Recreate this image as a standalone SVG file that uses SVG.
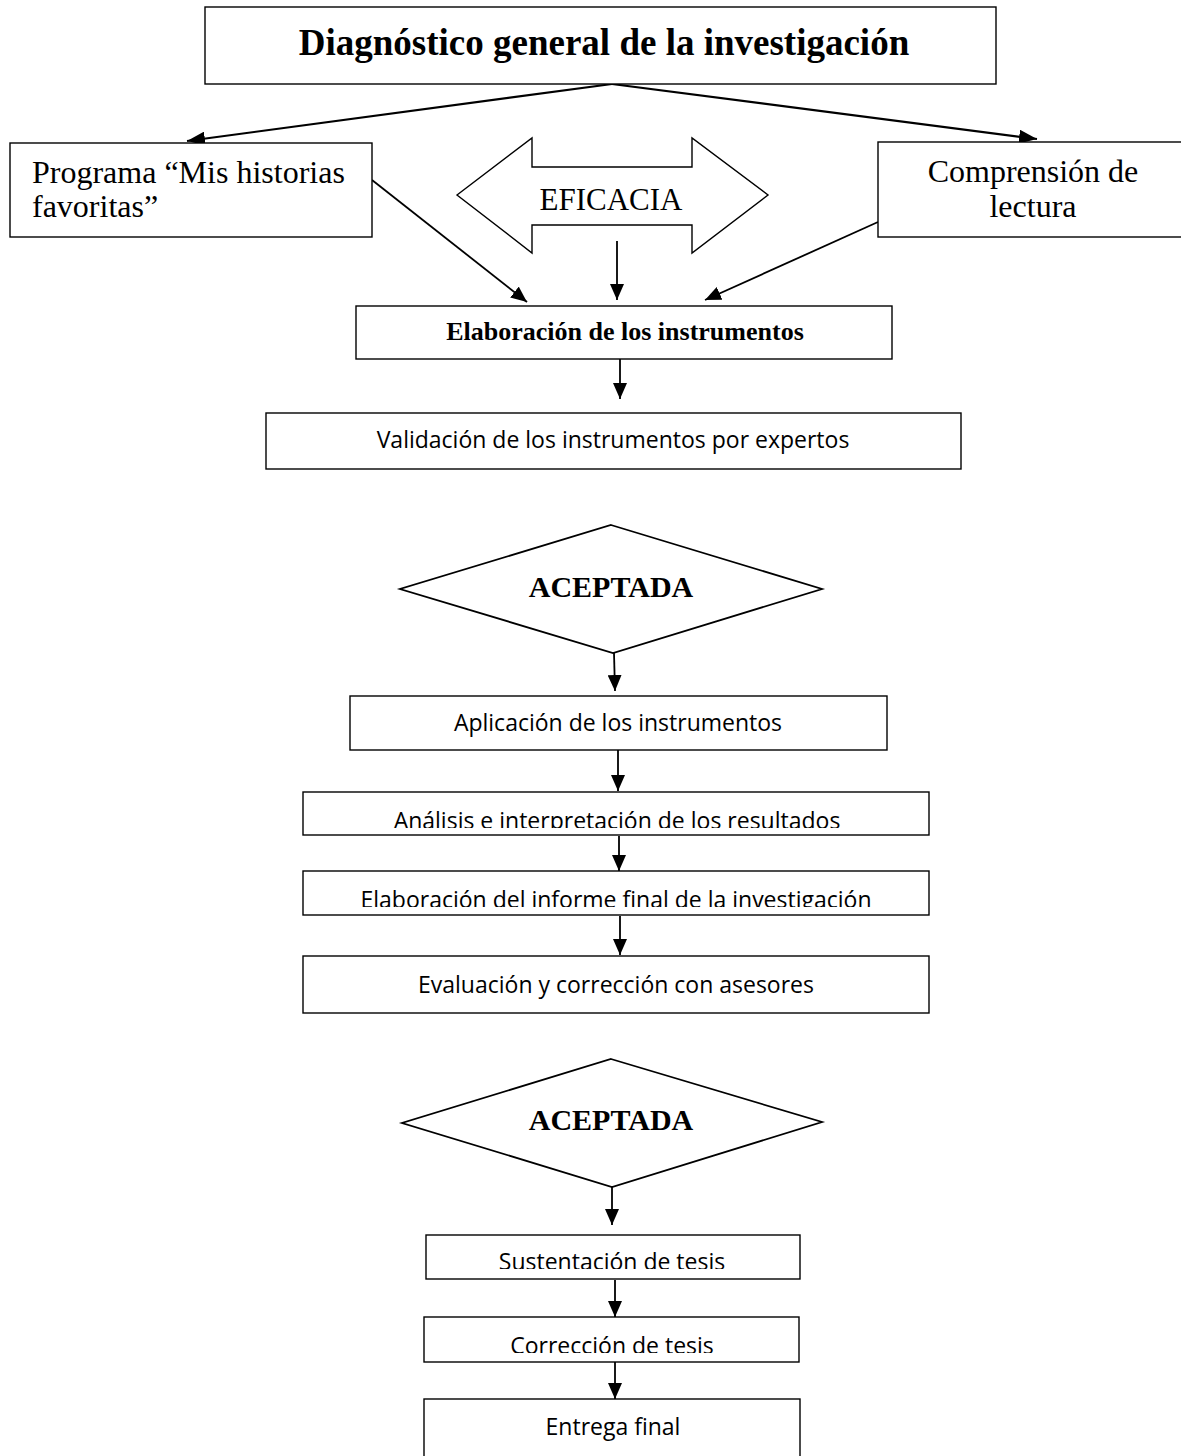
<svg xmlns="http://www.w3.org/2000/svg" width="1181" height="1456" viewBox="0 0 1181 1456">
<style>
.box{fill:#fff;stroke:#000;stroke-width:1.4}
.serif{font-family:"Liberation Serif","Times New Roman",serif;fill:#000}
.sans{font-family:"Open Sans","Liberation Sans",sans-serif;fill:#000;font-size:23px}
.con{stroke:#000;stroke-width:1.8;fill:none;marker-end:url(#ah)}
</style>
<defs>
<marker id="ah" viewBox="0 0 16 14" refX="16" refY="7" markerWidth="16" markerHeight="14" markerUnits="userSpaceOnUse" orient="auto">
<path d="M0,0 L16,7 L0,14 z" fill="#000"/>
</marker>
<marker id="ah2" viewBox="0 0 18 14" refX="18" refY="7" markerWidth="18" markerHeight="14" markerUnits="userSpaceOnUse" orient="auto">
<path d="M0,0 L18,7 L0,14 z" fill="#000"/>
</marker>
<clipPath id="c1"><rect x="303" y="792" width="626" height="36"/></clipPath>
<clipPath id="c2"><rect x="303" y="871" width="626" height="36"/></clipPath>
<clipPath id="c3"><rect x="426" y="1235" width="374" height="34"/></clipPath>
<clipPath id="c4"><rect x="424" y="1317" width="375" height="36"/></clipPath>
</defs>

<g id="connectors">
<line x1="612" y1="84" x2="187" y2="141" stroke="#000" stroke-width="2.2" marker-end="url(#ah2)"/>
<line x1="612" y1="84" x2="1037" y2="139" stroke="#000" stroke-width="2.2" marker-end="url(#ah2)"/>
<line class="con" x1="372" y1="180" x2="527" y2="302"/>
<line class="con" x1="617" y1="241" x2="617" y2="300"/>
<line class="con" x1="878" y1="222" x2="705" y2="300"/>
<line class="con" x1="620" y1="359" x2="620" y2="399"/>
<line class="con" x1="614" y1="653" x2="615" y2="691"/>
<line class="con" x1="618" y1="750" x2="618" y2="791"/>
<line class="con" x1="619" y1="836" x2="619" y2="871"/>
<line class="con" x1="620" y1="916" x2="620" y2="955"/>
<line class="con" x1="612" y1="1187" x2="612" y2="1225"/>
<line class="con" x1="615" y1="1280" x2="615" y2="1317"/>
<line class="con" x1="615" y1="1362" x2="615" y2="1399"/>
</g>

<g id="n-diagnostico">
<rect class="box" x="205" y="7" width="791" height="77" stroke-width="2"/>
<text class="serif" x="604" y="55" font-size="37" font-weight="bold" text-anchor="middle">Diagnóstico general de la investigación</text>
</g>

<g id="n-programa">
<rect class="box" x="10" y="143" width="362" height="94"/>
<text class="serif" x="32" y="183" font-size="32">Programa “Mis historias</text>
<text class="serif" x="32" y="217" font-size="32">favoritas”</text>
</g>

<g id="n-eficacia">
<polygon points="457,195 532,138 532,167 692,167 692,138 768,195 692,253 692,225 532,225 532,253" fill="#fff" stroke="#000" stroke-width="1.4"/>
<text class="serif" x="611" y="210" font-size="31" text-anchor="middle">EFICACIA</text>
</g>

<g id="n-comprension">
<rect class="box" x="878" y="142" width="310" height="95"/>
<text class="serif" x="1033" y="182" font-size="32" text-anchor="middle">Comprensión de</text>
<text class="serif" x="1033" y="217" font-size="32" text-anchor="middle">lectura</text>
</g>

<g id="n-elaboracion">
<rect class="box" x="356" y="306" width="536" height="53"/>
<text class="serif" x="625" y="340" font-size="26" font-weight="bold" text-anchor="middle">Elaboración de los instrumentos</text>
</g>

<g id="n-validacion">
<rect class="box" x="266" y="413" width="695" height="56"/>
<text class="sans" x="613" y="448" text-anchor="middle">Validación de los instrumentos por expertos</text>
</g>

<g id="n-aceptada1">
<polygon points="611,525 822,589 613,653 400,589" fill="#fff" stroke="#000" stroke-width="1.8"/>
<text class="serif" x="611" y="597" font-size="30" font-weight="bold" text-anchor="middle">ACEPTADA</text>
</g>

<g id="n-aplicacion">
<rect class="box" x="350" y="696" width="537" height="54"/>
<text class="sans" x="618" y="731" text-anchor="middle">Aplicación de los instrumentos</text>
</g>

<g id="n-analisis">
<rect class="box" x="303" y="792" width="626" height="43"/>
<text class="sans" x="617" y="829" text-anchor="middle" clip-path="url(#c1)">Análisis e interpretación de los resultados</text>
</g>

<g id="n-informe">
<rect class="box" x="303" y="871" width="626" height="44"/>
<text class="sans" x="616" y="908" text-anchor="middle" clip-path="url(#c2)">Elaboración del informe final de la investigación</text>
</g>

<g id="n-evaluacion">
<rect class="box" x="303" y="956" width="626" height="57"/>
<text class="sans" x="616" y="993" text-anchor="middle">Evaluación y corrección con asesores</text>
</g>

<g id="n-aceptada2">
<polygon points="611,1059 822,1122 612,1187 402,1123" fill="#fff" stroke="#000" stroke-width="1.8"/>
<text class="serif" x="611" y="1130" font-size="30" font-weight="bold" text-anchor="middle">ACEPTADA</text>
</g>

<g id="n-sustentacion">
<rect class="box" x="426" y="1235" width="374" height="44"/>
<text class="sans" x="612" y="1270" text-anchor="middle" clip-path="url(#c3)">Sustentación de tesis</text>
</g>

<g id="n-correccion">
<rect class="box" x="424" y="1317" width="375" height="45"/>
<text class="sans" x="612" y="1354" text-anchor="middle" clip-path="url(#c4)">Corrección de tesis</text>
</g>

<g id="n-entrega">
<rect class="box" x="424" y="1399" width="376" height="70"/>
<text class="sans" x="613" y="1435" text-anchor="middle">Entrega final</text>
</g>
</svg>
